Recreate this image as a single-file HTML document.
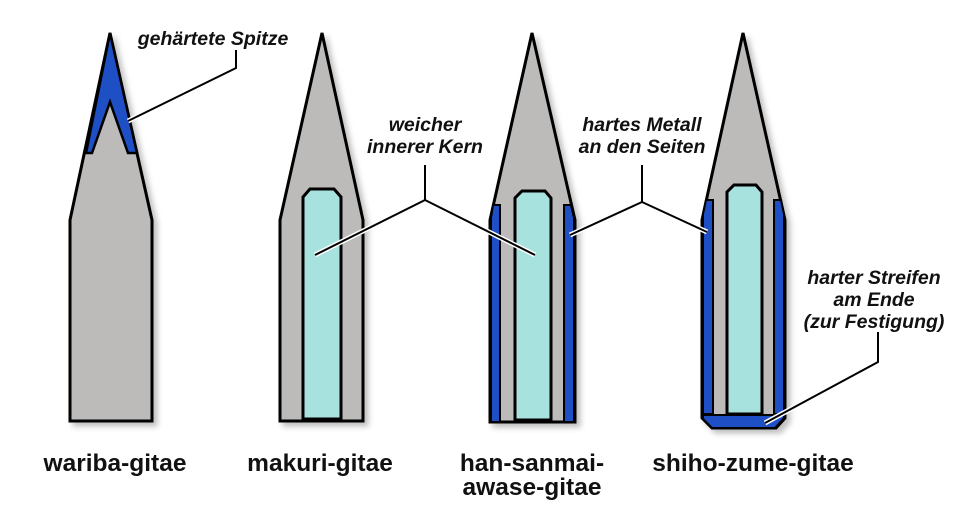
<!DOCTYPE html>
<html><head><meta charset="utf-8"><style>
body{margin:0;background:#fff}
svg{display:block}
.t{font-family:"Liberation Sans",sans-serif;font-weight:bold;font-style:italic;font-size:19.5px;fill:#111}
.b{font-family:"Liberation Sans",sans-serif;font-weight:bold;font-size:24.5px;fill:#111}
</style></head><body>
<svg width="960" height="520" viewBox="0 0 960 520" xmlns="http://www.w3.org/2000/svg">
<defs><filter id="sh" x="-20%" y="-20%" width="140%" height="140%"><feDropShadow dx="4" dy="4" stdDeviation="3" flood-color="#000" flood-opacity="0.25"/></filter></defs>
<g stroke="#000" stroke-width="3" stroke-linejoin="miter">
<path filter="url(#sh)" d="M110,33 L152,220 L152,421 L70,421 L70,220 Z" fill="#bdbaba"/>
<path d="M110,33 L137,153 L128,153 L110,102 L92,153 L86,153 Z" fill="#1f4fc4" stroke-width="2.5"/>
<path filter="url(#sh)" d="M322,33 L363,220 L363,421 L280,421 L280,220 Z" fill="#bdbaba"/>
<path d="M310,189 L334,189 L341,197 L341,419 L303,419 L303,197 Z" fill="#a8e2de"/>
<path filter="url(#sh)" d="M532,33 L575,220 L575,422 L490,422 L490,220 Z" fill="#bdbaba"/>
<path d="M493,205 L500,205 L500,422 L491,422 L491,218 Z" fill="#1f4fc4" stroke-width="2"/>
<path d="M571,205 L564,205 L564,422 L574,422 L574,218 Z" fill="#1f4fc4" stroke-width="2"/>
<path d="M522,191 L545,191 L551,198 L551,420 L515,420 L515,198 Z" fill="#a8e2de"/>
<path filter="url(#sh)" d="M743,33 L785,220 L785,418 L776,428 L712,428 L702,418 L702,220 Z" fill="#bdbaba"/>
<path d="M706,200 L713,200 L713,414 L703,414 L703,214 Z" fill="#1f4fc4" stroke-width="2"/>
<path d="M781,200 L774,200 L774,414 L784,414 L784,214 Z" fill="#1f4fc4" stroke-width="2"/>
<path d="M703,415 L784,415 L784,418 L775,428 L712,428 L703,419 Z" fill="#1f4fc4" stroke-width="2"/>
<path d="M734,185 L756,185 L762,192 L762,414 L727,414 L727,192 Z" fill="#a8e2de"/>
</g>
<g fill="none" stroke-linejoin="miter">
<g stroke="#fff" stroke-width="5">
<path d="M236,50 L236,68 L128,121"/>
<path d="M425,165 L425,200 L315,255 M425,200 L535,255"/>
<path d="M642,165 L642,202 L570,235 M642,202 L707,232"/>
<path d="M878,332 L878,362 L765,423"/>
</g>
<g stroke="#000" stroke-width="2">
<path d="M236,50 L236,68 L128,121"/>
<path d="M425,165 L425,200 L315,255 M425,200 L535,255"/>
<path d="M642,165 L642,202 L570,235 M642,202 L707,232"/>
<path d="M878,332 L878,362 L765,423"/>
</g>
</g>
<text class="t" x="213" y="45" text-anchor="middle">gehärtete Spitze</text>
<text class="t" x="425" y="131" text-anchor="middle">weicher</text>
<text class="t" x="425" y="153" text-anchor="middle">innerer Kern</text>
<text class="t" x="642" y="131" text-anchor="middle">hartes Metall</text>
<text class="t" x="642" y="153" text-anchor="middle">an den Seiten</text>
<text class="t" x="874" y="284" text-anchor="middle">harter Streifen</text>
<text class="t" x="874" y="306" text-anchor="middle">am Ende</text>
<text class="t" x="874" y="328" text-anchor="middle">(zur Festigung)</text>
<text class="b" x="115" y="471" text-anchor="middle">wariba-gitae</text>
<text class="b" x="320" y="471" text-anchor="middle">makuri-gitae</text>
<text class="b" x="532" y="471" text-anchor="middle">han-sanmai-</text>
<text class="b" x="532" y="495" text-anchor="middle">awase-gitae</text>
<text class="b" x="753" y="471" text-anchor="middle">shiho-zume-gitae</text>
</svg>
</body></html>
